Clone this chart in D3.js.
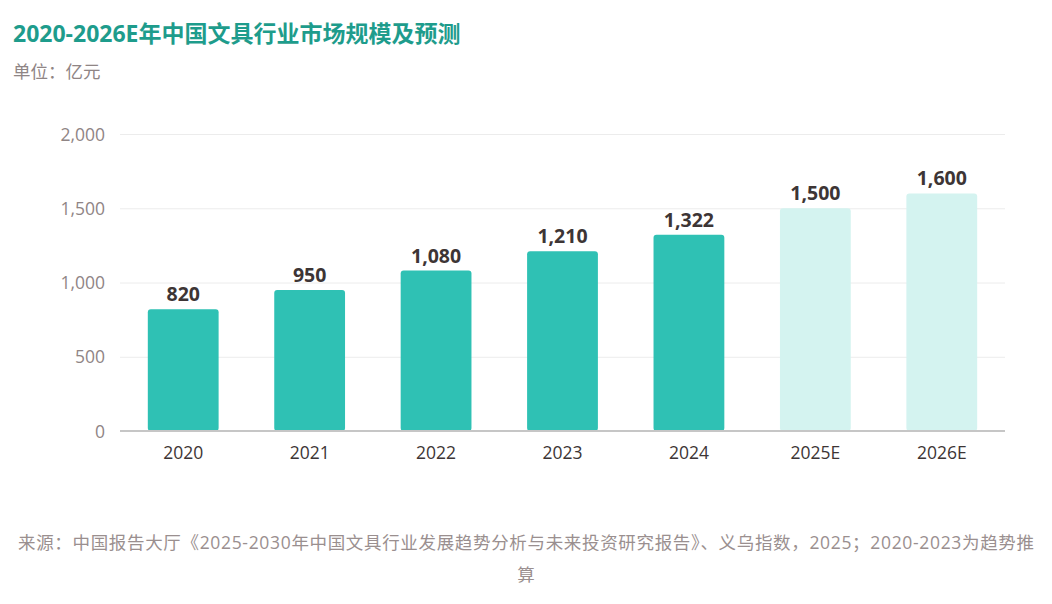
<!DOCTYPE html>
<html>
<head>
  <meta charset="utf-8">
  <title>2020-2026E年中国文具行业市场规模及预测</title>
  <script src="https://d3js.org/d3.v7.min.js"></script>
  <style>
    body {
      margin: 0;
      background: #fff;
      font-family: "Open Sans", "Noto Sans CJK SC", sans-serif;
    }
    svg text { font-family: "Open Sans", "Noto Sans CJK SC", sans-serif; }
    .grid line { stroke: #ececec; stroke-width: 1; }
    .grid path { display: none; }
    .y-axis path, .y-axis line { display: none; }
    .y-axis text { fill: #8f8585; font-size: 17.5px; }
    .x-axis path, .x-axis line { display: none; }
    .x-axis text { fill: #3d3535; font-size: 17.5px; }
  </style>
</head>
<body>
  <div id="chart"></div>

  <script>
    // data
    const years = ["2020", "2021", "2022", "2023", "2024", "2025E", "2026E"];
    const values = [820, 950, 1080, 1210, 1322, 1500, 1600];
    const isForecast = [false, false, false, false, false, true, true];
    const yTicks = [0, 500, 1000, 1500, 2000];

    const title = "2020-2026E年中国文具行业市场规模及预测";
    const unit = "单位：亿元";
    const sourceLines = [
      "来源：中国报告大厅《2025-2030年中国文具行业发展趋势分析与未来投资研究报告》、义乌指数，2025；2020-2023为趋势推",
      "算"
    ];

    const width = 1052, height = 604;
    const margin = { top: 134, right: 47, bottom: 173, left: 120 };

    const svg = d3.select("#chart").append("svg")
      .attr("width", width)
      .attr("height", height);

    const data = years.map((y, i) => ({ year: y, value: values[i], forecast: isForecast[i] }));

    const x = d3.scaleBand()
      .domain(years)
      .range([margin.left, width - margin.right])
      .paddingInner(0.44)
      .paddingOuter(0.22);

    const y = d3.scaleLinear()
      .domain([0, 2000])
      .range([height - margin.bottom, margin.top]);

    // title + unit
    svg.append("text")
      .attr("x", 13).attr("y", 42)
      .attr("fill", "#1e9c8c")
      .style("font-size", "23px")
      .style("font-weight", "bold")
      .text(title);

    svg.append("text")
      .attr("x", 13).attr("y", 78)
      .attr("fill", "#8f8585")
      .style("font-size", "17.5px")
      .text(unit);

    // gridlines
    svg.append("g")
      .attr("class", "grid")
      .attr("transform", `translate(${margin.left},0)`)
      .call(d3.axisLeft(y).tickValues(yTicks).tickSize(-(width - margin.left - margin.right)).tickFormat(""));

    // y axis labels
    svg.append("g")
      .attr("class", "y-axis")
      .attr("transform", `translate(${margin.left - 12},0)`)
      .call(d3.axisLeft(y).tickValues(yTicks).tickSize(0).tickFormat(d3.format(",")))
      .selectAll("text")
      .attr("dy", "0.35em");

    // bars
    svg.selectAll(".bar")
      .data(data)
      .enter().append("rect")
      .attr("class", "bar")
      .attr("x", d => x(d.year))
      .attr("y", d => y(d.value))
      .attr("width", x.bandwidth())
      .attr("height", d => y(0) - y(d.value))
      .attr("rx", 3)
      .attr("fill", d => d.forecast ? "#d4f3f0" : "#2fc1b4");

    // baseline
    svg.append("line")
      .attr("x1", margin.left).attr("x2", width - margin.right)
      .attr("y1", y(0)).attr("y2", y(0))
      .attr("stroke", "#c6c6c6")
      .attr("stroke-width", 2);

    // value labels
    svg.selectAll(".val")
      .data(data)
      .enter().append("text")
      .attr("class", "val")
      .attr("x", d => x(d.year) + x.bandwidth() / 2)
      .attr("y", d => y(d.value) - 8)
      .attr("text-anchor", "middle")
      .attr("fill", "#3d3535")
      .style("font-size", "19.5px")
      .style("font-weight", "bold")
      .text(d => d3.format(",")(d.value));

    // x axis
    svg.append("g")
      .attr("class", "x-axis")
      .attr("transform", `translate(0,${y(0) + 10})`)
      .call(d3.axisBottom(x).tickSize(0))
      .selectAll("text")
      .attr("dy", "0.85em");

    // source note
    svg.append("g").selectAll("text")
      .data(sourceLines)
      .enter().append("text")
      .attr("x", width / 2)
      .attr("y", (d, i) => 549 + i * 32)
      .attr("text-anchor", "middle")
      .attr("fill", "#9a8f8f")
      .style("font-size", "17.5px")
      .each(function(d, i) {
        if (i === 0) d3.select(this).attr("textLength", 1016).attr("lengthAdjust", "spacing");
      })
      .text(d => d);
  </script>
</body>
</html>
